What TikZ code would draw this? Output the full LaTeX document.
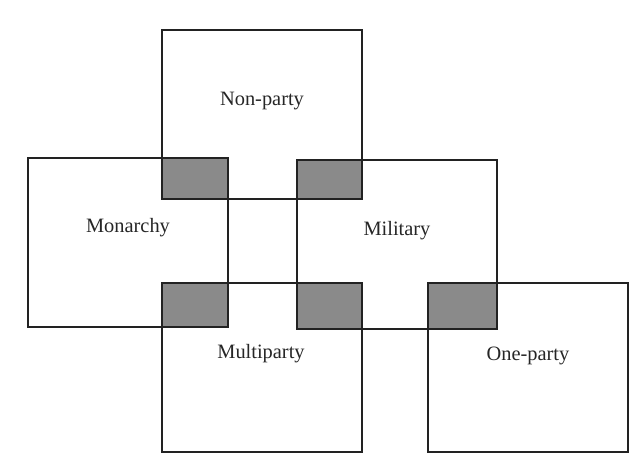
\documentclass[tikz,border=0pt]{standalone}
\usepackage{fontspec}
\setmainfont{Liberation Serif}
\definecolor{overlapgray}{HTML}{8A8A8A}
\definecolor{edgegray}{HTML}{222222}
\begin{document}
\begin{tikzpicture}[x=0.75pt,y=-0.75pt,
    regime/.style={draw=edgegray, line width=1.1pt},
    overlap/.style={draw=edgegray, fill=overlapgray, line width=1.1pt},
    label/.style={anchor=base, font=\fontsize{15.3}{18}\selectfont, text=black!85}]

    \useasboundingbox (0,0) rectangle (643,471);

    % Define the corners of the regime boxes
    \coordinate (NP1) at (162, 30);  \coordinate (NP2) at (362, 199);
    \coordinate (MO1) at (28, 158);  \coordinate (MO2) at (228, 327);
    \coordinate (MI1) at (297, 160); \coordinate (MI2) at (497, 329);
    \coordinate (MP1) at (162, 283); \coordinate (MP2) at (362, 452);
    \coordinate (OP1) at (428, 283); \coordinate (OP2) at (628, 452);

    % Draw the regime boxes
    \draw[regime] (NP1) rectangle (NP2);
    \draw[regime] (MO1) rectangle (MO2);
    \draw[regime] (MI1) rectangle (MI2);
    \draw[regime] (MP1) rectangle (MP2);
    \draw[regime] (OP1) rectangle (OP2);

    % Shade the overlaps
    \draw[overlap] (NP1 |- MO1) rectangle (MO2 |- NP2);
    \draw[overlap] (MI1) rectangle (NP2);
    \draw[overlap] (MP1) rectangle (MO2);
    \draw[overlap] (MI1 |- MP1) rectangle (NP2 |- MI2);
    \draw[overlap] (OP1) rectangle (MI2);

    % Label the boxes
    \node[label] (nonparty) at (262, 105) {Non-party};
    \node[label] (monarchy) at (128, 232) {Monarchy};
    \node[label] (military) at (397, 235) {Military};
    \node[label] (multiparty) at (261, 358) {Multiparty};
    \node[label] (oneparty) at (528, 360) {One-party};

\end{tikzpicture}
\end{document}
